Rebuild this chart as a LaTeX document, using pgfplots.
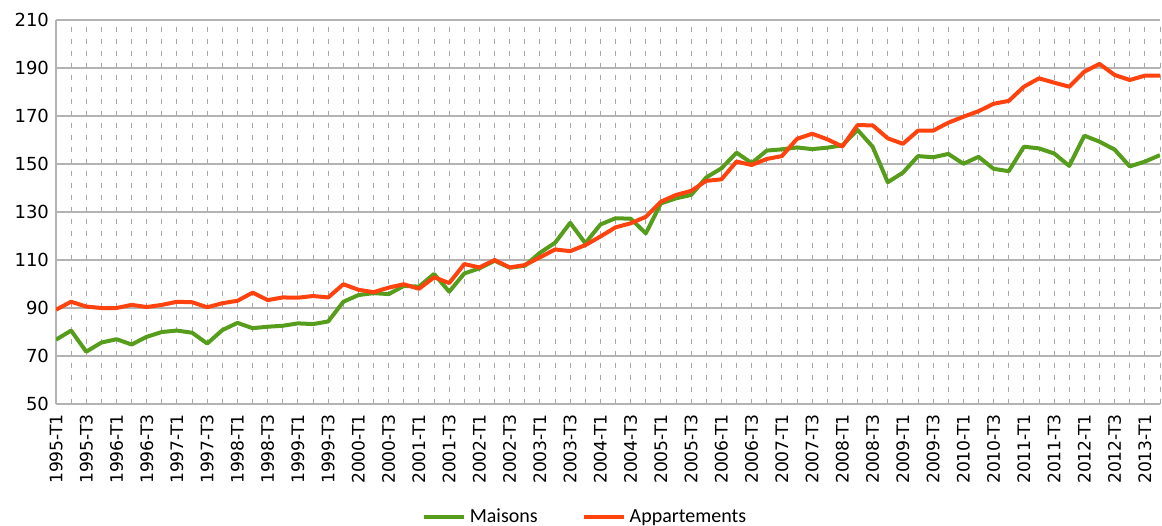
\documentclass[border=0pt]{standalone}
\usepackage{fontspec}
\setmainfont{DejaVu Sans}
\newfontfamily\legendfont{Carlito}
\usepackage{pgfplots}
\pgfplotsset{compat=1.18}
\usepackage{pgfplotstable}

\definecolor{maisons}{HTML}{579D1C}
\definecolor{apparts}{HTML}{FF420E}
\definecolor{gridgray}{HTML}{B3B3B3}

% indice trimestriel, 0 = 1995-T1
\pgfplotstableread{
i m a
0 76.8 89.3
1 80.6 92.6
2 71.8 90.6
3 75.6 90.0
4 77.0 90.0
5 74.8 91.3
6 78.0 90.4
7 80.0 91.3
8 80.6 92.6
9 79.7 92.4
10 75.2 90.3
11 80.8 92.0
12 83.8 93.0
13 81.6 96.4
14 82.2 93.3
15 82.6 94.4
16 83.6 94.3
17 83.3 95.0
18 84.4 94.4
19 92.6 99.9
20 95.4 97.6
21 96.2 96.6
22 95.8 98.5
23 99.2 99.9
24 98.9 98.0
25 104.2 102.8
26 96.8 100.4
27 104.4 108.3
28 106.5 106.9
29 109.7 110.0
30 106.8 106.9
31 107.6 107.9
32 113.0 111.1
33 117.2 114.4
34 125.5 113.7
35 117.0 116.2
36 124.8 119.8
37 127.4 123.6
38 127.2 125.3
39 121.1 128.0
40 133.6 134.3
41 135.7 137.1
42 137.1 138.8
43 144.4 143.0
44 148.2 143.6
45 154.7 151.0
46 150.4 149.6
47 155.6 152.1
48 156.1 153.3
49 156.9 160.5
50 156.2 162.6
51 156.8 160.3
52 157.8 157.3
53 164.2 166.2
54 157.2 166.1
55 142.4 160.7
56 146.4 158.4
57 153.3 163.9
58 152.8 163.9
59 154.2 167.2
60 150.1 169.7
61 153.0 172.0
62 148.0 175.1
63 147.0 176.3
64 157.2 182.2
65 156.5 185.7
66 154.4 183.9
67 149.2 182.2
68 161.8 188.5
69 159.3 191.7
70 156.0 187.1
71 149.0 185.0
72 151.0 186.8
73 153.7 186.8
}\indices

\begin{document}
\begin{tikzpicture}
\begin{axis}[
  scale only axis,
  width=552pt, height=192pt,
  xmin=0, xmax=73, ymin=50, ymax=210,
  axis x line*=bottom, axis y line*=left,
  axis line style={gridgray, line width=0.8pt},
  ytick={50,70,...,210},
  xtick={0,2,...,72},
  minor xtick={1,3,...,73},
  xticklabels={1995-T1,1995-T3,1996-T1,1996-T3,1997-T1,1997-T3,1998-T1,1998-T3,1999-T1,1999-T3,2000-T1,2000-T3,2001-T1,2001-T3,2002-T1,2002-T3,2003-T1,2003-T3,2004-T1,2004-T3,2005-T1,2005-T3,2006-T1,2006-T3,2007-T1,2007-T3,2008-T1,2008-T3,2009-T1,2009-T3,2010-T1,2010-T3,2011-T1,2011-T3,2012-T1,2012-T3,2013-T1},
  xticklabel shift=1.5pt,
  x tick label style={rotate=90, anchor=east, font=\fontsize{8.6}{10}\selectfont},
  y tick label style={font=\fontsize{9}{11}\selectfont},
  /pgf/number format/assume math mode=true,
  major tick length=0pt, minor tick length=0pt,
  xmajorgrids, xminorgrids, ymajorgrids,
  x grid style={gray!70, line width=0.5pt, dash pattern=on 2.5pt off 3.5pt},
  minor x grid style={gray!70, line width=0.5pt, dash pattern=on 2.5pt off 3.5pt},
  y grid style={gridgray, line width=0.8pt},
  legend columns=2,
  legend style={at={(0.48,-0.295)}, anchor=center, draw=none, fill=none,
    font=\legendfont\fontsize{10}{12}\selectfont,
    /tikz/every even column/.append style={column sep=20pt}},
  legend image code/.code={\draw[#1] (0pt,0pt) -- (20pt,0pt);},
]
\addplot[maisons, line width=2pt, line join=round] table[x=i, y=m] {\indices};
\addlegendentry{Maisons}
\addplot[apparts, line width=2pt, line join=round] table[x=i, y=a] {\indices};
\addlegendentry{Appartements}
\coordinate (sw) at (rel axis cs:0,0);
\coordinate (ne) at (rel axis cs:1,1);
\end{axis}
\pgfresetboundingbox
\path ([shift={(-28pt,-60.5pt)}]sw) rectangle ([shift={(1pt,10pt)}]ne);
\end{tikzpicture}
\end{document}
